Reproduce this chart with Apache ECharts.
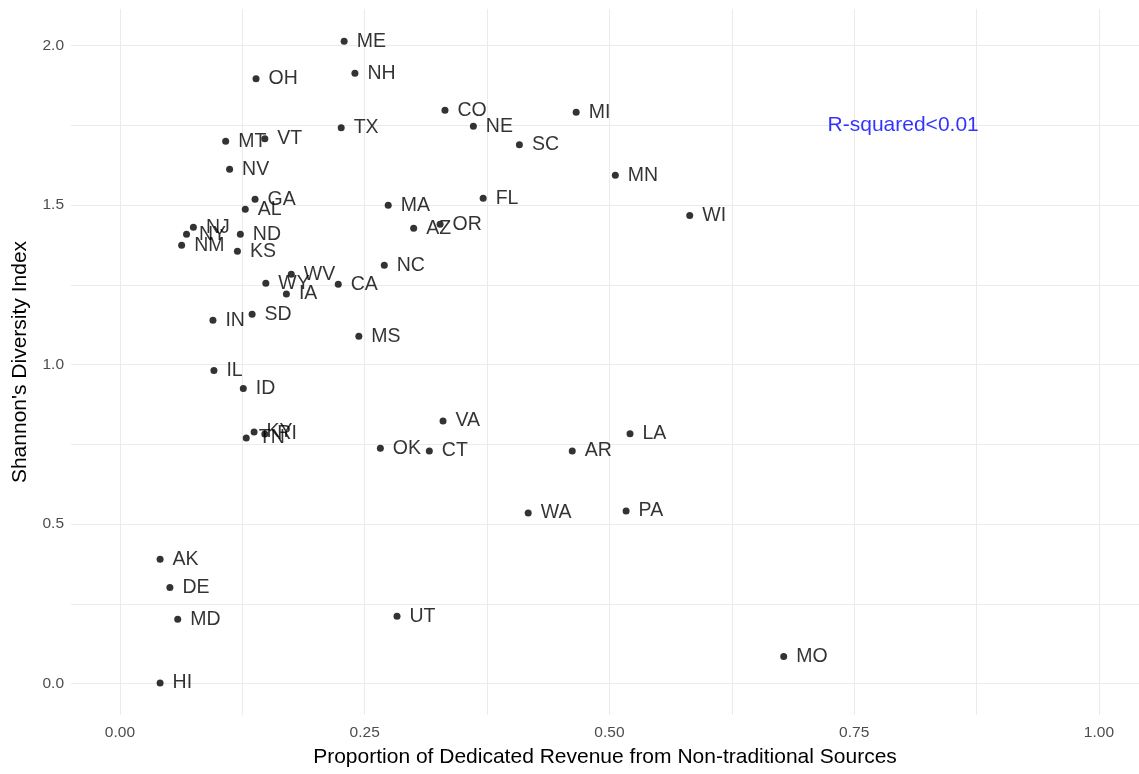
<!DOCTYPE html>
<html>
<head>
<meta charset="utf-8">
<script src="https://cdn.jsdelivr.net/npm/echarts@6/dist/echarts.min.js"></script>
<style>
html,body{margin:0;padding:0;background:#fff;}
#chart{width:1139px;height:774px;}
</style>
</head>
<body>
<div id="chart"></div>
<script>
const states = ["ME","OH","NH","CO","MI","TX","NE","SC","MT","VT","NV","MN","GA","AL","MA","FL","AZ","OR","WI","NJ","NY","NM","ND","KS","NC","WV","WY","IA","CA","SD","IN","MS","IL","ID","VA","LA","TN","KY","RI","OK","CT","AR","WA","PA","AK","DE","MD","UT","MO","HI"];
const proportion = [0.229,0.139,0.240,0.332,0.466,0.226,0.361,0.408,0.108,0.148,0.112,0.506,0.138,0.128,0.274,0.371,0.300,0.327,0.582,0.075,0.068,0.063,0.123,0.120,0.270,0.175,0.149,0.170,0.223,0.135,0.095,0.244,0.096,0.126,0.330,0.521,0.129,0.137,0.148,0.266,0.316,0.462,0.417,0.517,0.041,0.051,0.059,0.283,0.678,0.041];
const shannon = [2.013,1.896,1.913,1.797,1.791,1.742,1.747,1.689,1.700,1.708,1.612,1.593,1.518,1.487,1.499,1.521,1.427,1.440,1.467,1.430,1.408,1.374,1.408,1.355,1.311,1.283,1.255,1.221,1.252,1.158,1.139,1.089,0.981,0.925,0.823,0.783,0.770,0.789,0.782,0.738,0.729,0.729,0.535,0.541,0.390,0.301,0.202,0.211,0.085,0.002];
const xMajorTicks = [0, 0.25, 0.5, 0.75, 1];
const xGridTicks = [0, 0.125, 0.25, 0.375, 0.5, 0.625, 0.75, 0.875, 1];
const yMajorTicks = [0, 0.5, 1, 1.5, 2];
const yGridTicks = [0, 0.25, 0.5, 0.75, 1, 1.25, 1.5, 1.75, 2];
const annotationText = "R-squared<0.01";
const annotationPos = [0.8, 1.75];

const chart = echarts.init(document.getElementById('chart'), null, {renderer:'canvas'});
const font = "'Liberation Sans', Arial, sans-serif";
const data = states.map((s,i)=>({name:s, value:[proportion[i], shannon[i]]}));

chart.setOption({
  backgroundColor:'#ffffff',
  animation:false,
  grid:{left:71, top:9, right:0, height:706, containLabel:false},
  xAxis:{
    type:'value', min:-0.05, max:1.0409,
    name:'Proportion of Dedicated Revenue from Non-traditional Sources',
    nameLocation:'middle', nameGap:32,
    nameTextStyle:{fontFamily:font, fontSize:21, color:'#000'},
    axisLine:{show:false},
    axisTick:{show:false, customValues:xGridTicks},
    axisLabel:{customValues:xMajorTicks, formatter:v=>v.toFixed(2), fontFamily:font, fontSize:15.5, color:'#4D4D4D', margin:10},
    splitLine:{show:true, lineStyle:{color:'#EBEBEB', width:1}}
  },
  yAxis:{
    type:'value', min:-0.0983, max:2.1143,
    name:"Shannon's Diversity Index",
    nameLocation:'middle', nameGap:40, nameRotate:90,
    nameTextStyle:{fontFamily:font, fontSize:21, color:'#000'},
    axisLine:{show:false},
    axisTick:{show:false, customValues:yGridTicks},
    axisLabel:{customValues:yMajorTicks, formatter:v=>v.toFixed(1), fontFamily:font, fontSize:15.5, color:'#4D4D4D', margin:7},
    splitLine:{show:true, lineStyle:{color:'#EBEBEB', width:1}}
  },
  series:[
    {
      type:'scatter',
      data:data,
      symbolSize:7,
      itemStyle:{color:'#000'},
      label:{show:true, position:'right', distance:9, formatter:'{b}', fontFamily:font, fontSize:19.5, color:'#000'},
      emphasis:{disabled:true}
    },
    {
      type:'scatter',
      data:[{name:annotationText, value:annotationPos}],
      symbolSize:0,
      label:{show:true, position:'inside', formatter:'{b}', fontFamily:font, fontSize:21, color:'#0000FF'},
      emphasis:{disabled:true}
    }
  ]
});
</script>
</body>
</html>
